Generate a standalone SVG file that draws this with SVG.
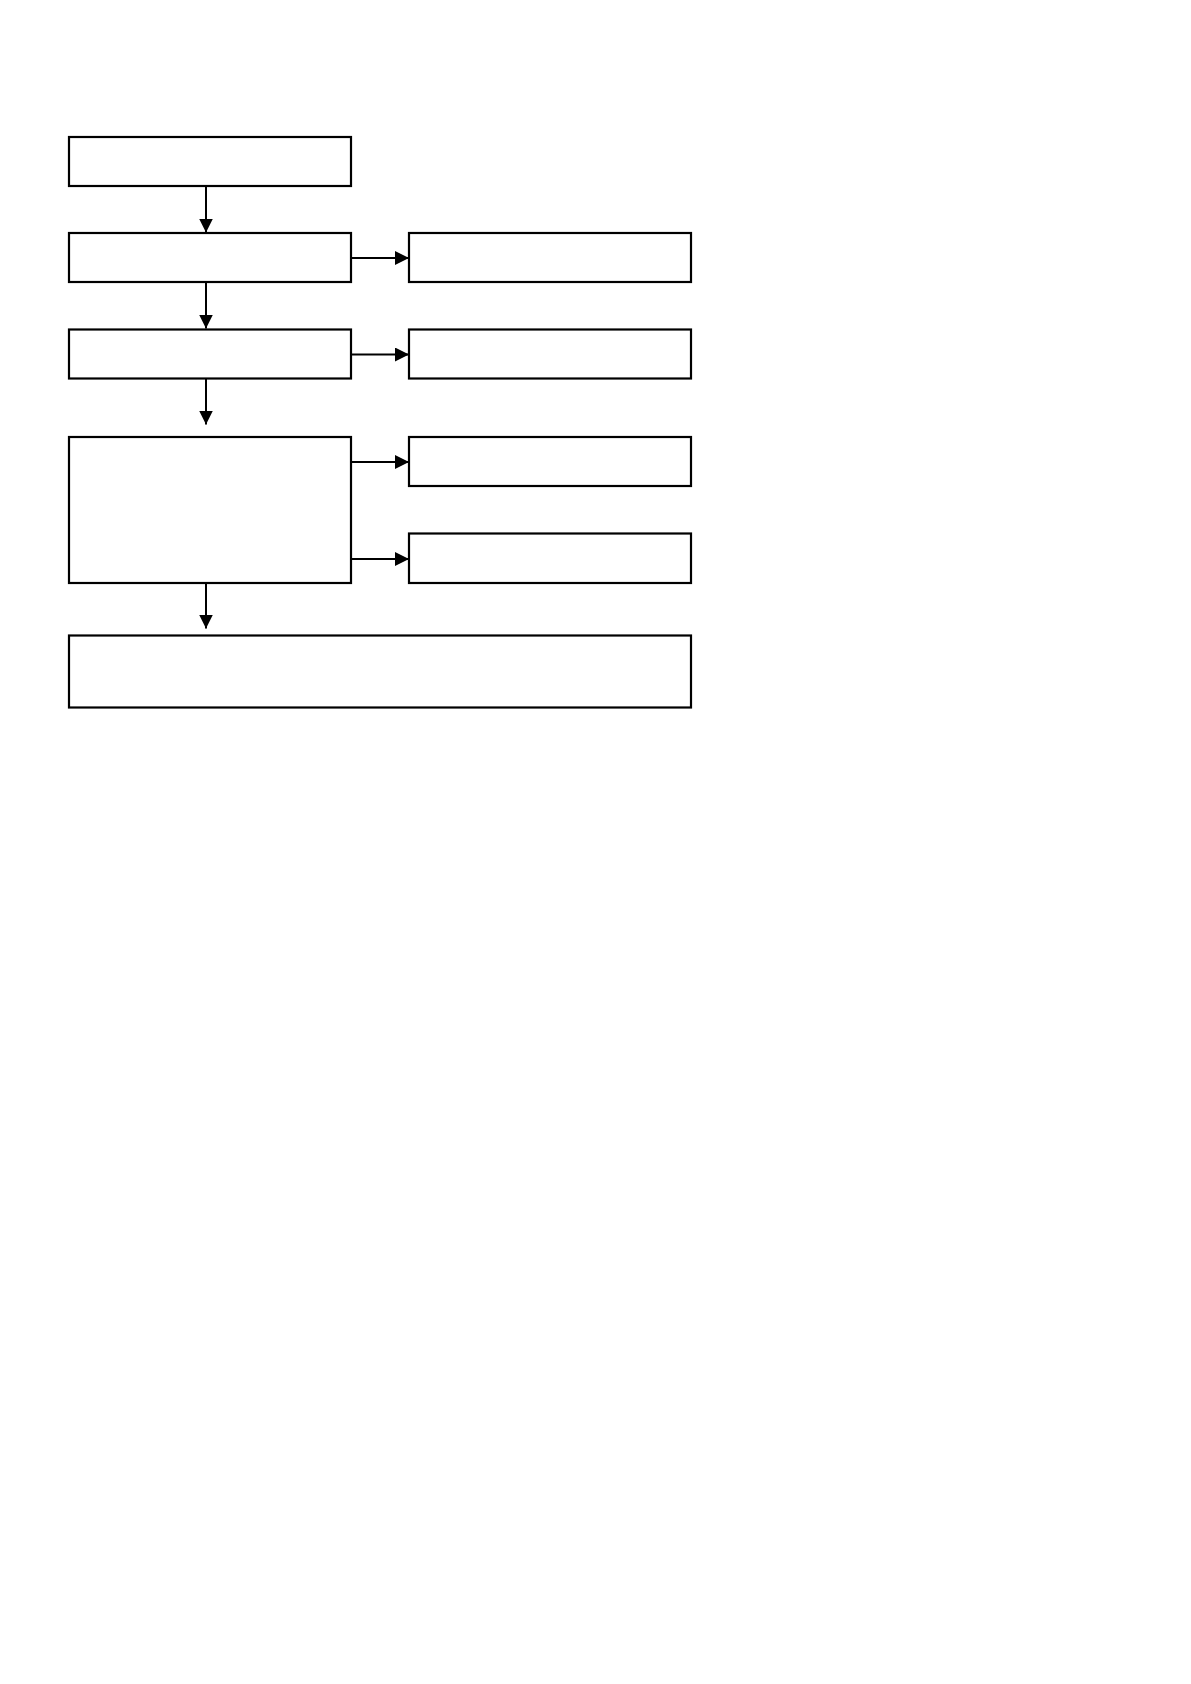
<svg xmlns="http://www.w3.org/2000/svg" width="1191" height="1684" viewBox="0 0 1191 1684">
<defs>
<style>
.box{fill:#fff;stroke:#000;stroke-width:2.2}
.conn{stroke:#000;stroke-width:2;fill:none}
</style>
<marker id="ah" markerUnits="userSpaceOnUse" markerWidth="15" markerHeight="15" refX="14" refY="7" orient="auto">
<path d="M0,0 L14,7 L0,14 Z" fill="#000"/>
</marker>
</defs>
<rect width="1191" height="1684" fill="#fff"/>
<g id="n1"><rect class="box" x="69" y="137" width="282" height="49"/></g>
<g id="n2"><rect class="box" x="69" y="233" width="282" height="49"/></g>
<g id="n3"><rect class="box" x="69" y="329.5" width="282" height="49"/></g>
<g id="n4"><rect class="box" x="69" y="437" width="282" height="146"/></g>
<g id="r1"><rect class="box" x="409" y="233" width="282" height="49"/></g>
<g id="r2"><rect class="box" x="409" y="329.5" width="282" height="49"/></g>
<g id="r3"><rect class="box" x="409" y="437" width="282" height="49"/></g>
<g id="r4"><rect class="box" x="409" y="533.5" width="282" height="49.5"/></g>
<g id="n5"><rect class="box" x="69" y="635.5" width="622" height="72"/></g>
<g id="connectors">
<line class="conn" x1="206" y1="186" x2="206" y2="232.5" marker-end="url(#ah)"/>
<line class="conn" x1="206" y1="282" x2="206" y2="328.5" marker-end="url(#ah)"/>
<line class="conn" x1="206" y1="378.5" x2="206" y2="424.5" marker-end="url(#ah)"/>
<line class="conn" x1="206" y1="583" x2="206" y2="628.5" marker-end="url(#ah)"/>
<line class="conn" x1="351" y1="258" x2="409" y2="258" marker-end="url(#ah)"/>
<line class="conn" x1="351" y1="354.5" x2="409" y2="354.5" marker-end="url(#ah)"/>
<line class="conn" x1="351" y1="462" x2="409" y2="462" marker-end="url(#ah)"/>
<line class="conn" x1="351" y1="559" x2="409" y2="559" marker-end="url(#ah)"/>
</g>
</svg>
